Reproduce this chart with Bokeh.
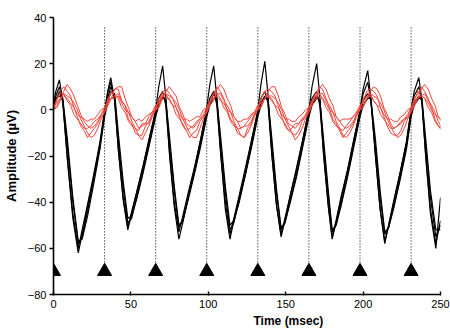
import math
from bokeh.plotting import figure
from bokeh.models import Range1d, Title, FixedTicker
from bokeh.embed import file_html
from bokeh.resources import INLINE

# ---------------- data ----------------
stim_times = [0, 33, 66, 99, 132, 165, 198, 231]
stim_level = -70
dotted_top = 36

x_ticks = [0, 50, 100, 150, 200, 250]
y_ticks = [-80, -60, -40, -20, 0, 20, 40]

# black traces: shared sample times (ms)
black_t = [0, 1.5, 3.8, 6, 9, 12.5, 16, 18.5, 22, 26, 30,
           33, 35, 37, 39.5, 42, 45, 48, 50.5, 54, 58, 62,
           66, 68, 70.5, 72.5, 75, 78, 81, 83.5, 87, 91, 95,
           99, 101, 103.5, 105.5, 108, 111, 114, 116.5, 120, 124, 128,
           132, 134, 136.5, 138.5, 141, 144, 147, 149.5, 153, 157, 161,
           165, 167, 170, 172, 174.5, 177.5, 180, 182.5, 186, 190, 194,
           198, 200, 203, 205, 208, 211, 214, 216.5, 220, 224, 228,
           231, 233, 236, 238, 240.5, 243.5, 247, 250]

black_1 = [3, 8, 13, 4, -22, -47, -62, -54, -42, -29, -15,
           -1, 8, 14, 4, -18, -39, -52, -45, -35, -24, -12,
           0, 10, 19, 6, -20, -42, -56, -49, -38, -26, -13,
           1, 11, 19, 5, -19, -43, -56, -48, -38, -27, -13,
           0, 11, 21, 7, -19, -41, -55, -48, -37, -26, -13,
           0, 10, 20, 6, -20, -42, -56, -49, -38, -26, -13,
           0, 9, 17, 5, -20, -43, -58, -50, -39, -27, -14,
           0, 8, 14, 4, -21, -45, -60, -38]
black_2 = [1, 6, 10, 3, -21, -45, -60, -52, -41, -28, -14,
           0, 7, 12, 4, -18, -38, -51, -44, -35, -24, -12,
           -1, 5, 8, 2, -19, -40, -53, -46, -36, -25, -13,
           0, 5, 8, 2, -19, -40, -54, -47, -37, -25, -13,
           -1, 5, 8, 3, -19, -41, -54, -47, -37, -25, -13,
           0, 5, 8, 2, -19, -41, -55, -48, -37, -26, -13,
           -1, 7, 12, 4, -20, -43, -57, -50, -39, -27, -14,
           0, 6, 10, 3, -20, -43, -58, -48]
black_3 = [0, 4, 8, 4, -16, -40, -58, -55, -44, -30, -16,
           -2, 5, 10, 6, -14, -34, -49, -47, -37, -26, -14,
           -2, 3, 6, 4, -15, -35, -51, -48, -38, -27, -15,
           -2, 3, 7, 4, -15, -36, -52, -49, -39, -28, -15,
           -2, 3, 6, 4, -15, -36, -52, -49, -39, -28, -15,
           -2, 3, 6, 4, -16, -37, -53, -50, -40, -28, -15,
           -2, 4, 7, 4, -16, -38, -54, -51, -41, -29, -16,
           -2, 3, 6, 4, -16, -38, -55, -50]
black_4 = [2, 5, 6, 5, -13, -38, -57, -56, -46, -32, -17,
           -3, 3, 8, 7, -11, -31, -47, -46, -38, -27, -15,
           -3, 2, 5, 5, -12, -33, -50, -48, -39, -28, -16,
           -3, 2, 5, 5, -12, -33, -50, -48, -40, -28, -16,
           -3, 2, 5, 5, -12, -34, -51, -49, -40, -29, -16,
           -3, 2, 5, 5, -13, -35, -52, -50, -41, -29, -16,
           -3, 2, 5, 5, -13, -35, -53, -51, -42, -30, -17,
           -3, 2, 5, 5, -13, -35, -52, -52]

# red traces: sampled every 2.2 ms
red_t = [round(i * 2.2, 1) for i in range(115)]

red_1 = [1, 4, 8, 10, 8, 6, 1, -3, -7, -9, -12, -10, -8, -6, -2,
         0, 5, 7, 9, 9, 4, 2, -4, -6, -10, -11, -11, -7, -5, -2,
         1, 3, 8, 9, 7, 5, 1, -3, -7, -9, -12, -10, -9, -5, -3,
         0, 4, 7, 10, 8, 5, 0, -4, -6, -10, -11, -12, -8, -6, -2,
         1, 5, 8, 9, 8, 6, 2, -3, -7, -9, -10, -11, -9, -5, -3,
         0, 4, 7, 10, 9, 5, 1, -4, -6, -9, -12, -10, -8, -6, -2,
         1, 4, 8, 9, 8, 6, 1, -3, -7, -10, -11, -11, -9, -5, -3,
         0, 5, 7, 10, 8, 5, 1, -4, -7, -9]
red_2 = [0, 1, 4, 8, 11, 9, 6, 2, -2, -5, -7, -8, -7, -5, -3,
         -1, 2, 5, 9, 10, 10, 5, 1, -3, -5, -8, -7, -6, -6, -2,
         0, 1, 5, 8, 10, 8, 6, 1, -2, -6, -7, -8, -6, -4, -3,
         -1, 2, 4, 9, 11, 9, 5, 2, -3, -5, -8, -7, -7, -5, -2,
         0, 1, 5, 8, 10, 10, 6, 1, -2, -6, -7, -8, -6, -4, -3,
         -1, 2, 4, 9, 11, 9, 5, 2, -3, -5, -7, -8, -7, -5, -2,
         0, 1, 5, 8, 10, 9, 6, 1, -2, -6, -8, -7, -6, -4, -3,
         -1, 2, 5, 9, 11, 9, 5, 2, -3, -5]
red_3 = [2, 3, 5, 6, 5, 3, 1, -2, -3, -4, -5, -4, -4, -2, 0,
         1, 4, 5, 5, 6, 3, 0, -1, -3, -5, -4, -5, -3, -2, -1,
         2, 3, 6, 5, 5, 2, 1, -2, -4, -4, -5, -4, -3, -3, 0,
         1, 4, 5, 6, 4, 3, 0, -1, -3, -5, -5, -4, -4, -2, -1,
         2, 3, 5, 6, 5, 2, 1, -2, -4, -4, -5, -5, -3, -2, 0,
         1, 4, 6, 5, 5, 3, 0, -1, -3, -5, -4, -4, -4, -3, -1,
         2, 3, 5, 6, 4, 2, 1, -2, -4, -4, -5, -5, -3, -2, 0,
         1, 4, 5, 6, 5, 3, 0, -2, -3, -5]
red_4 = [0, 5, 7, 7, 4, 2, -2, -4, -6, -8, -8, -7, -5, -4, -2,
         1, 4, 8, 6, 5, 1, -1, -5, -7, -8, -9, -6, -6, -3, -1,
         0, 5, 7, 7, 4, 2, -2, -4, -6, -9, -8, -7, -5, -4, -2,
         1, 4, 7, 7, 5, 1, -1, -5, -7, -8, -8, -7, -5, -3, -1,
         0, 5, 8, 6, 4, 2, -2, -4, -6, -9, -8, -6, -6, -4, -2,
         1, 4, 7, 7, 5, 1, -1, -5, -7, -8, -9, -7, -5, -3, -1,
         0, 5, 7, 7, 4, 2, -2, -4, -6, -8, -8, -7, -5, -4, -2,
         1, 4, 8, 6, 5, 1, -1, -5, -7, -8]
red_5 = [0, 2, 5, 7, 6, 5, 3, 0, -4, -7, -10, -12, -11, -8, -4,
         -1, 3, 5, 6, 7, 4, 2, -1, -5, -8, -11, -13, -10, -7, -3,
         0, 2, 6, 7, 6, 5, 3, 0, -4, -7, -10, -12, -12, -8, -4,
         -1, 3, 5, 7, 7, 4, 2, -1, -5, -8, -11, -12, -10, -7, -3,
         0, 2, 5, 6, 6, 5, 3, 0, -4, -7, -10, -13, -11, -8, -4,
         -1, 3, 6, 7, 7, 4, 2, -1, -5, -8, -11, -12, -10, -7, -3,
         0, 2, 5, 7, 6, 5, 3, 0, -4, -7, -10, -12, -11, -8, -4,
         -1, 3, 5, 6, 7, 4, 2, -1, -5, -8]

black_traces = [black_1, black_2, black_3, black_4]
red_traces = [red_1, red_2, red_3, red_4, red_5]

x_label = "Time (msec)"
y_label = "Amplitude (µV)"

# ---------------- figure ----------------
FONT = "Liberation Sans"
p = figure(width=450, height=336, output_backend="svg", toolbar_location=None,
           x_range=Range1d(0, 250), y_range=Range1d(-80, 40),
           min_border_left=51, min_border_right=10, min_border_top=17,
           min_border_bottom=42)
p.outline_line_color = None
p.grid.visible = False
p.background_fill_color = "white"
p.border_fill_color = "white"

for ax in (p.xaxis[0], p.yaxis[0]):
    ax.axis_line_color = "black"
    ax.axis_line_width = 1.6
    ax.major_tick_line_color = "black"
    ax.major_tick_line_width = 1.4
    ax.minor_tick_line_color = None
    ax.major_label_text_font = FONT
    ax.major_label_text_font_size = "11px"
    ax.major_label_text_color = "black"

p.xaxis.ticker = FixedTicker(ticks=x_ticks)
p.yaxis.ticker = FixedTicker(ticks=y_ticks)
p.xaxis.major_tick_in = 3
p.xaxis.major_tick_out = 1
p.yaxis.major_tick_in = 0
p.yaxis.major_tick_out = 4
p.xaxis.major_label_standoff = 4
p.yaxis.major_label_standoff = 3

p.yaxis.axis_label = y_label
p.yaxis.axis_label_text_font = FONT
p.yaxis.axis_label_text_font_size = "13px"
p.yaxis.axis_label_text_font_style = "bold"
p.yaxis.axis_label_text_color = "black"
p.yaxis.axis_label_standoff = 6

p.add_layout(Title(text=x_label, align="left", offset=200, standoff=2,
                   text_font=FONT, text_font_size="12px",
                   text_font_style="bold", text_color="black"), "below")

# dotted stimulus lines (not at t=0)
for s in stim_times[1:]:
    p.line([s, s], [stim_level, dotted_top], line_color="black",
           line_width=1, line_dash="1 2")

for tr in black_traces:
    p.line(black_t, tr, line_color="black", line_width=1.2)

for tr in red_traces:
    p.line(red_t, tr, line_color="#f0453a", line_width=1)

p.scatter(stim_times, [stim_level] * len(stim_times), marker="triangle",
          size=14, fill_color="black", line_color="black")

open("out.html", "w").write(file_html(p, INLINE))
